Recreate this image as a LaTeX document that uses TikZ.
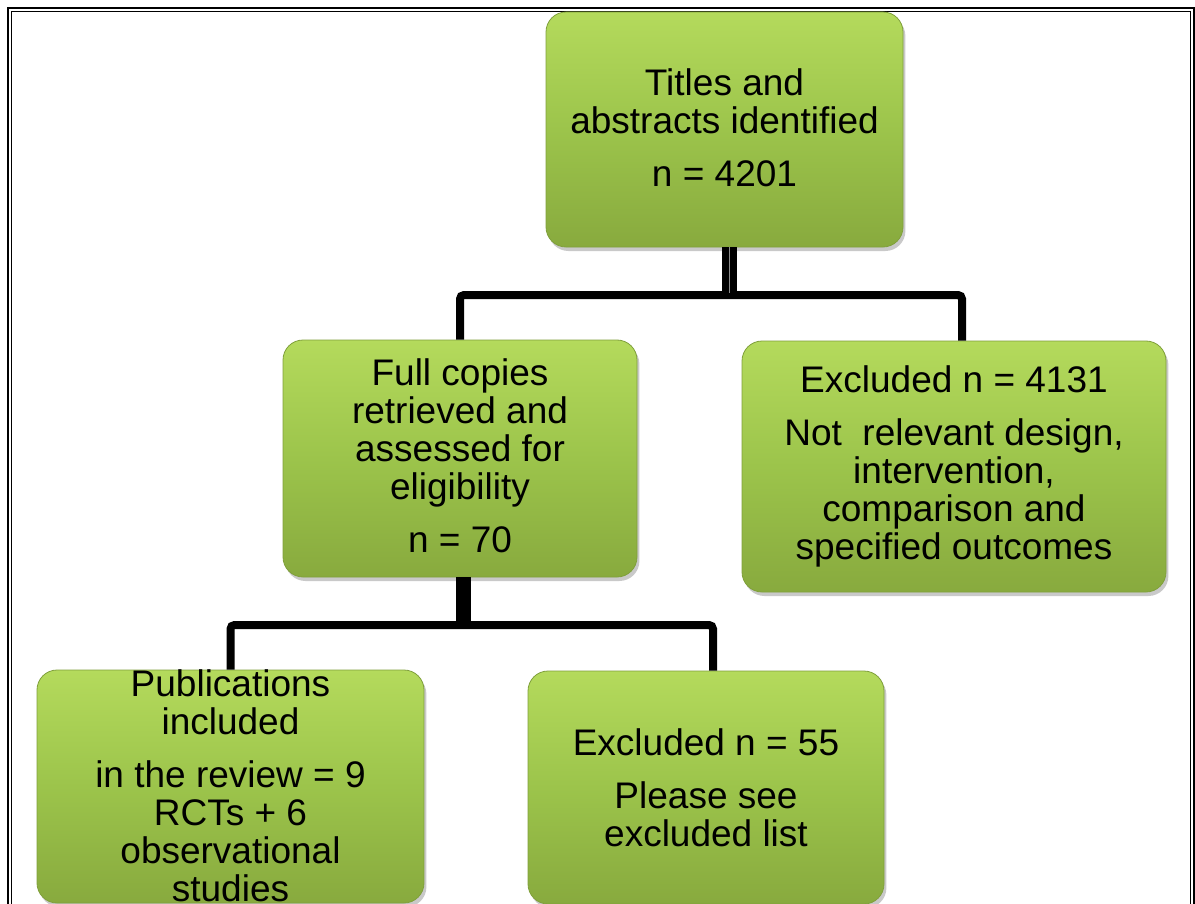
\documentclass[tikz,border=0pt]{standalone}
\usepackage{fontspec}
\setmainfont{Liberation Sans}
\usetikzlibrary{shadows,calc}
\definecolor{gtop}{RGB}{180,218,92}
\definecolor{gmid}{RGB}{156,196,75}
\definecolor{gbot}{RGB}{136,170,62}
\definecolor{gedge}{RGB}{128,160,60}
\tikzset{
  box/.style={rounded corners=10pt, top color=gtop, bottom color=gbot, middle color=gmid,
    draw=gedge, line width=0.4pt, inner sep=0pt,
    drop shadow={shadow xshift=1.2pt, shadow yshift=-2pt, opacity=0.35, fill=black!60}},
  txt/.style={align=center, inner sep=0pt, anchor=north,
    font=\fontsize{18.5}{19}\selectfont},
  thickv/.style={line width=7.5pt, black},
  bar/.style={line width=4pt, black, rounded corners=2pt},
  frame/.style={black}
}
\begin{document}
\begin{tikzpicture}[x=0.5pt,y=-0.5pt]
\useasboundingbox (0,0) rectangle (1195,904);
\clip (0,0) rectangle (1195,904);
\fill[white] (0,0) rectangle (1195,904);
% double frame
\draw[frame, line width=1pt] (8,8) rectangle (1194,940);
\draw[frame, line width=0.8pt] (11.5,11.5) rectangle (1190.5,940);
% boxes
\node[box, minimum width=178.5pt, minimum height=117.5pt] (t) at (724.5,129.5) {};
\node[box, minimum width=177pt, minimum height=118.5pt] (m) at (460,458.5) {};
\node[box, minimum width=212pt, minimum height=125.5pt] (xa) at (954,466.5) {};
\node[box, minimum width=193.5pt, minimum height=116.5pt] (p) at (230.5,786.5) {};
\node[box, minimum width=178pt, minimum height=116.5pt] (xb) at (706,787.5) {};
% texts
\node[txt] (tt) at (724.5,68.4) {Titles and\\abstracts identified\\[7.5pt]n = 4201};
\node[txt] (mt) at (460,358.4) {Full copies\\retrieved and\\assessed for\\eligibility\\[7.5pt]n = 70};
\node[txt] (xat) at (954,365) {Excluded n = 4131\\[7.5pt]Not\ \ relevant design,\\intervention,\\comparison and\\specified outcomes};
\node[txt] (ptx) at (230.5,669.4) {Publications\\included\\[7.5pt]in the review = 9\\RCTs + 6\\observational\\studies};
\node[txt] (xbt) at (706,728.4) {Excluded n = 55\\[7.5pt]Please see\\excluded list};
% connectors
\coordinate (j1) at (729,295);
\coordinate (j2) at (463.5,625);
\draw[bar] (m.north) |- (j1) -| ([xshift=4pt]xa.north);
\draw[thickv] (t.south -| j1) -- (j1);
\draw[black!45, line width=0.5pt] (t.south -| j1) -- ([yshift=1pt]j1);
\draw[bar] (p.north) |- (j2) -| ([xshift=3.5pt]xb.north);
\draw[thickv] (m.south -| j2) -- (j2);
\end{tikzpicture}
\end{document}
